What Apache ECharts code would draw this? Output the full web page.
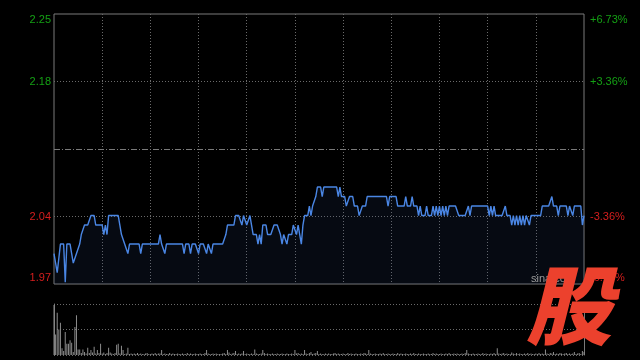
<!DOCTYPE html>
<html>
<head>
<meta charset="utf-8">
<style>
  html, body { margin: 0; padding: 0; background: #000; }
  #chart { width: 640px; height: 360px; }
</style>
<script src="https://cdn.jsdelivr.net/npm/echarts@6/dist/echarts.min.js"></script>
</head>
<body>
<div id="chart"></div>
<script>
// ---------- data ----------
const preClose = 2.11;
const limitPct = 6.73;

const leftTickLabels  = ['1.97', '2.04', '', '2.18', '2.25'];
const rightTickLabels = ['-6.73%', '-3.36%', '', '+3.36%', '+6.73%'];

const prices = [
  2.00,1.99,1.98,1.98,2.01,2.01,2.01,1.97,2.01,2.01,
  2.01,2.00,1.99,1.99,2.00,2.00,2.01,2.02,2.02,2.03,
  2.03,2.03,2.03,2.04,2.04,2.04,2.03,2.03,2.03,2.03,
  2.03,2.02,2.03,2.02,2.04,2.04,2.04,2.04,2.04,2.04,
  2.04,2.03,2.02,2.02,2.01,2.01,2.00,2.01,2.01,2.01,
  2.01,2.01,2.01,2.01,2.00,2.01,2.01,2.01,2.01,2.01,
  2.01,2.01,2.01,2.01,2.01,2.01,2.02,2.01,2.01,2.00,
  2.01,2.01,2.01,2.01,2.01,2.01,2.01,2.01,2.01,2.01,
  2.01,2.00,2.01,2.01,2.01,2.00,2.01,2.01,2.01,2.01,
  2.00,2.01,2.01,2.01,2.01,2.00,2.01,2.01,2.00,2.01,
  2.01,2.01,2.01,2.01,2.01,2.01,2.01,2.02,2.03,2.03,
  2.03,2.03,2.03,2.04,2.04,2.04,2.04,2.03,2.04,2.04,
  2.03,2.03,2.04,2.03,2.02,2.02,2.02,2.01,2.02,2.01,
  2.03,2.03,2.03,2.02,2.02,2.02,2.02,2.03,2.03,2.03,
  2.03,2.02,2.01,2.02,2.02,2.01,2.02,2.02,2.02,2.03,
  2.03,2.02,2.03,2.02,2.01,2.03,2.04,2.04,2.04,2.05,
  2.04,2.05,2.05,2.06,2.07,2.07,2.07,2.06,2.07,2.07,
  2.07,2.07,2.07,2.07,2.07,2.07,2.07,2.06,2.07,2.06,
  2.06,2.06,2.05,2.05,2.06,2.06,2.06,2.05,2.05,2.05,
  2.04,2.04,2.05,2.05,2.05,2.06,2.06,2.06,2.06,2.06,
  2.06,2.06,2.06,2.06,2.06,2.06,2.06,2.06,2.05,2.06,
  2.06,2.06,2.06,2.06,2.05,2.05,2.05,2.05,2.05,2.06,
  2.05,2.05,2.05,2.06,2.05,2.05,2.05,2.04,2.05,2.04,
  2.04,2.04,2.05,2.04,2.04,2.04,2.05,2.04,2.05,2.04,
  2.05,2.04,2.05,2.04,2.05,2.04,2.05,2.05,2.05,2.05,
  2.05,2.05,2.04,2.04,2.04,2.04,2.04,2.04,2.05,2.04,
  2.05,2.05,2.05,2.05,2.05,2.05,2.05,2.05,2.05,2.05,
  2.05,2.04,2.05,2.04,2.05,2.04,2.04,2.04,2.04,2.04,
  2.04,2.05,2.04,2.04,2.04,2.03,2.04,2.03,2.04,2.03,
  2.04,2.03,2.04,2.03,2.04,2.04,2.03,2.04,2.04,2.04,
  2.04,2.04,2.04,2.04,2.05,2.05,2.05,2.05,2.05,2.05,
  2.06,2.05,2.05,2.05,2.04,2.05,2.05,2.05,2.05,2.05,
  2.04,2.05,2.05,2.04,2.05,2.05,2.05,2.05,2.05,2.03,
  2.04
];

const volumes = [
  98,40,83,50,63,13,8,45,22,22,
  29,24,6,55,78,11,11,4,11,6,
  3,14,4,10,5,16,3,10,4,22,
  3,5,2,4,14,5,3,2,4,20,
  22,3,18,10,2,3,14,2,3,2,
  3,2,4,2,3,2,2,3,4,2,
  2,3,2,4,2,3,3,10,2,3,
  2,2,4,2,3,2,2,3,2,2,
  3,2,2,4,2,3,2,2,3,2,
  2,3,2,2,4,10,3,2,2,3,
  2,3,2,2,2,3,4,2,10,5,
  2,3,4,8,2,3,2,3,8,2,
  3,2,2,3,2,11,3,2,2,3,
  10,4,2,3,2,2,3,2,2,3,
  2,2,3,2,2,3,2,2,3,2,
  10,3,4,2,3,2,10,3,2,4,
  6,2,3,4,8,2,3,2,2,3,
  2,3,2,2,3,4,2,3,2,2,
  3,2,2,4,2,3,2,2,3,2,
  2,3,2,4,3,2,10,3,2,2,
  3,2,2,3,2,4,2,2,3,2,
  2,3,2,2,4,2,3,2,2,3,
  2,2,3,2,4,2,2,3,2,2,
  3,2,2,3,2,2,4,2,3,2,
  2,3,2,2,3,2,4,2,2,3,
  2,3,2,2,3,2,4,10,3,2,
  2,3,2,2,3,2,2,4,2,3,
  2,2,3,2,4,2,13,3,2,3,
  4,2,3,2,2,5,3,2,4,2,
  3,2,2,3,2,4,2,3,2,2,
  3,2,4,2,3,2,11,3,2,4,
  3,6,2,3,2,4,3,2,3,4,
  2,3,2,3,6,2,3,4,2,8,
  6
];

// trading minutes (HK session): 09:30-12:00, 13:01-16:00
const times = [];
function pushRange(h0, m0, h1, m1) {
  for (let t = h0 * 60 + m0; t <= h1 * 60 + m1; t++) {
    const h = Math.floor(t / 60), m = t % 60;
    times.push((h < 10 ? '0' : '') + h + ':' + (m < 10 ? '0' : '') + m);
  }
}
pushRange(9, 30, 12, 0);
pushRange(13, 1, 16, 0);

// ---------- chart ----------
const GREEN = '#14a014';
const RED = '#d61e1e';
const GRID_C = '#6a6a6a';
const BORDER_C = '#7a7a7a';
const FONT = '"Liberation Sans", Arial, sans-serif';

function tagFor(idx) {
  return idx === 0 ? 'bot' : (idx === 4 ? 'top' : 'mid');
}
const labelRich = {
  topG: { color: GREEN, fontFamily: FONT, fontSize: 11, padding: [12, 0, 0, 0] },
  midG: { color: GREEN, fontFamily: FONT, fontSize: 11 },
  midR: { color: RED, fontFamily: FONT, fontSize: 11 },
  botR: { color: RED, fontFamily: FONT, fontSize: 11, padding: [0, 0, 12, 0] }
};

const chart = echarts.init(document.getElementById('chart'), null, { renderer: 'canvas' });

const option = {
  backgroundColor: '#000',
  animation: false,
  grid: [
    { left: 54, right: 56, top: 14, height: 270, show: true, borderColor: BORDER_C, borderWidth: 1, backgroundColor: 'transparent' },
    { left: 54, right: 56, top: 304, height: 51, show: false }
  ],
  xAxis: [
    {
      type: 'category', gridIndex: 0, data: times, boundaryGap: false,
      axisLine: { show: false }, axisTick: { show: false }, axisLabel: { show: false },
      splitLine: { show: true, interval: (i) => i % 30 === 0 && i !== 0 && i !== times.length - 1,
        lineStyle: { color: GRID_C, type: [1, 2], width: 1 } }
    },
    {
      type: 'category', gridIndex: 1, data: times, boundaryGap: false,
      axisLine: { show: false }, axisTick: { show: false }, axisLabel: { show: false },
      splitLine: { show: false }
    }
  ],
  yAxis: [
    { // price scale for the line (hidden)
      type: 'value', gridIndex: 0,
      min: preClose * (1 - limitPct / 100), max: preClose * (1 + limitPct / 100),
      show: false, splitLine: { show: false }
    },
    { // left labels (in units of 3.365%)
      type: 'value', gridIndex: 0, position: 'left', min: -2, max: 2, interval: 1,
      axisLine: { show: false }, axisTick: { show: false },
      axisLabel: {
        margin: 3,
        formatter: (v, idx) => leftTickLabels[idx] ? '{' + tagFor(idx) + (idx >= 3 ? 'G' : 'R') + '|' + leftTickLabels[idx] + '}' : '',
        rich: labelRich
      },
      splitLine: { show: true, lineStyle: { color: ['rgba(0,0,0,0)', GRID_C, 'rgba(0,0,0,0)', GRID_C, 'rgba(0,0,0,0)'], type: [1, 2], width: 1 } }
    },
    { // right labels
      type: 'value', gridIndex: 0, position: 'right', min: -2, max: 2, interval: 1,
      axisLine: { show: false }, axisTick: { show: false },
      axisLabel: {
        margin: 6,
        formatter: (v, idx) => rightTickLabels[idx] ? '{' + tagFor(idx) + (idx >= 3 ? 'G' : 'R') + '|' + rightTickLabels[idx] + '}' : '',
        rich: labelRich
      },
      splitLine: { show: false }
    },
    { // volume
      type: 'value', gridIndex: 1, position: 'left', min: 0, max: 100, interval: 50,
      axisLine: { show: true, lineStyle: { color: BORDER_C, width: 1 } },
      axisTick: { show: false }, axisLabel: { show: false },
      splitLine: { show: true, lineStyle: { color: GRID_C, type: [1, 2], width: 1 } }
    },
    { // volume right border
      type: 'value', gridIndex: 1, position: 'right', min: 0, max: 100, interval: 50,
      axisLine: { show: true, lineStyle: { color: BORDER_C, width: 1 } },
      axisTick: { show: false }, axisLabel: { show: false }, splitLine: { show: false }
    }
  ],
  series: [
    {
      type: 'line', xAxisIndex: 0, yAxisIndex: 0, data: prices,
      showSymbol: false, symbol: 'none',
      lineStyle: { color: '#4a86e4', width: 1.4 },
      areaStyle: { color: 'rgba(40,70,130,0.2)', origin: 'start' },
      markLine: {
        silent: true, symbol: 'none', label: { show: false },
        lineStyle: { color: '#7a7a7a', type: [6, 2, 1, 2], width: 1 },
        data: [{ yAxis: preClose }]
      },
      z: 3
    },
    {
      type: 'bar', xAxisIndex: 1, yAxisIndex: 3, data: volumes,
      barWidth: 1, itemStyle: { color: '#8c8c8c' }
    }
  ],
  graphic: [
    {
      type: 'text', left: 531, top: 273, z: 50,
      style: { text: 'sina.com', fill: '#9a9a9a', font: '11px ' + FONT }
    },
    {
      type: 'text', x: 569, y: 305, z: 100,
      style: {
        text: '股', fill: '#ec412d',
        font: 'italic 900 86px "Noto Sans CJK SC"',
        textAlign: 'center', textVerticalAlign: 'middle'
      }
    }
  ]
};

chart.setOption(option);
</script>
</body>
</html>
